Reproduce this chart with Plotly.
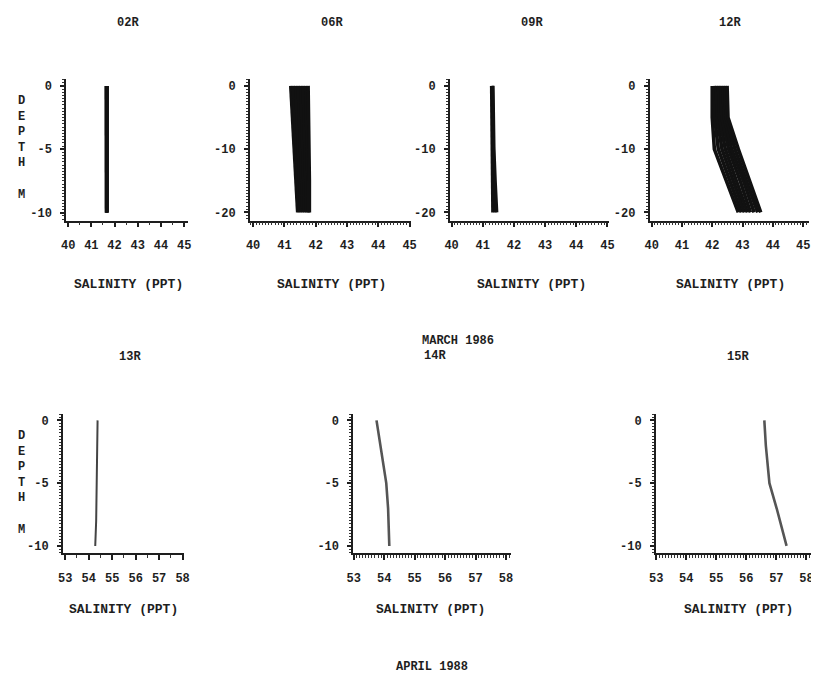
import plotly.graph_objects as go

# page body has an 8px margin, so the figure is drawn 8px in from the top-left
OFF = 8
W, H = 819 - OFF, 679 - OFF

# ---------------- data ----------------
depth_02 = [0, -5, -10]
sal_02 = [
    [41.63, 41.63, 41.64],
    [41.66, 41.66, 41.66],
    [41.69, 41.69, 41.69],
]

depth_06 = [0, -5, -10, -15, -20]
sal_06 = [
    [41.20, 41.25, 41.31, 41.36, 41.42],
    [41.28, 41.32, 41.38, 41.42, 41.47],
    [41.36, 41.40, 41.45, 41.49, 41.53],
    [41.44, 41.48, 41.52, 41.55, 41.59],
    [41.52, 41.55, 41.59, 41.62, 41.65],
    [41.60, 41.63, 41.66, 41.68, 41.71],
    [41.68, 41.71, 41.73, 41.75, 41.76],
    [41.76, 41.78, 41.80, 41.80, 41.80],
]

depth_09 = [0, -5, -10, -15, -20]
sal_09 = [
    [41.28, 41.29, 41.30, 41.31, 41.32],
    [41.31, 41.32, 41.33, 41.36, 41.40],
    [41.33, 41.34, 41.36, 41.40, 41.45],
]

depth_12 = [0, -5, -10, -15, -20]
sal_12 = [
    [42.00, 42.00, 42.07, 42.47, 42.86],
    [42.07, 42.08, 42.20, 42.57, 42.96],
    [42.14, 42.16, 42.32, 42.68, 43.06],
    [42.21, 42.24, 42.43, 42.80, 43.16],
    [42.28, 42.32, 42.54, 42.92, 43.26],
    [42.35, 42.40, 42.64, 43.03, 43.38],
    [42.42, 42.46, 42.75, 43.14, 43.50],
    [42.49, 42.52, 42.86, 43.22, 43.60],
]

depth_13 = [0, -2, -5, -8, -10]
sal_13 = [54.38, 54.37, 54.35, 54.32, 54.28]

depth_14 = [0, -2, -4, -5, -7, -10]
sal_14 = [53.75, 53.87, 54.01, 54.07, 54.13, 54.17]

depth_15 = [0, -2, -5, -7, -10]
sal_15 = [56.60, 56.65, 56.77, 57.01, 57.34]

station_names = ["02R", "06R", "09R", "12R", "13R", "14R", "15R"]
xt_top = [40, 41, 42, 43, 44, 45]
xt_bot = [53, 54, 55, 56, 57, 58]
yt_10 = [0, -5, -10]
yt_20 = [0, -10, -20]
x_title = "SALINITY (PPT)"
y_title = "D<br>E<br>P<br>T<br>H<br> <br>M"
month_top = "MARCH 1986"
month_bot = "APRIL 1988"

# ---------------- layout helpers ----------------
FONT = "Liberation Mono"
INK = "#1e1e1e"


def fx(p):
    return min(1.0, max(0.0, (p - OFF) / W))


def fy(p):
    return min(1.0, max(0.0, 1 - (p - OFF) / H))


# panel geometry: (x domain px, x range, y domain px, y range, yticks, xticks, xminor, yminor)
panels = [
    ((60, 184), (39.915, 45.17), (79, 221), (0.551, -10.63), yt_10, xt_top, 0.5, 0.25),
    ((246.7, 410), (39.896, 45.03), (79, 221), (1.105, -21.31), yt_20, xt_top, 0.1, 0.5),
    ((450, 612), (39.946, 45.06), (79, 221), (1.105, -21.31), yt_20, xt_top, 0.1, 0.5),
    ((653, 815), (39.935, 45.195), (79, 221), (1.105, -21.31), yt_20, xt_top, 0.1, 0.5),
    ((56.7, 180), (52.904, 58.07), (414.3, 554.3), (0.533, -10.6), yt_10, xt_bot, 0.5, 0.25),
    ((351.7, 511.7), (52.985, 58.15), (414.3, 554.3), (0.533, -10.6), yt_10, xt_bot, 0.1, 0.25),
    ((659.3, 819), (52.99, 58.22), (414.3, 554.3), (0.533, -10.6), yt_10, xt_bot, 0.1, 0.25),
]

series = [
    (depth_02, sal_02, "#111111", 3.2),
    (depth_06, sal_06, "#111111", 3.4),
    (depth_09, sal_09, "#111111", 3.2),
    (depth_12, sal_12, "#111111", 3.6),
    (depth_13, [sal_13], "#444444", 2.0),
    (depth_14, [sal_14], "#555555", 2.6),
    (depth_15, [sal_15], "#555555", 2.6),
]

fig = go.Figure()
layout = dict(
    width=W, height=H,
    margin=dict(l=0, r=0, t=0, b=0),
    paper_bgcolor="white", plot_bgcolor="white",
    showlegend=False,
    font=dict(family=FONT, size=12, color=INK, weight="bold"),
)

for i, (pan, ser) in enumerate(zip(panels, series)):
    (xd, xr, yd, yr, yt, xt, xmin, ymin) = pan
    n = i + 1
    xa = "xaxis" if n == 1 else f"xaxis{n}"
    ya = "yaxis" if n == 1 else f"yaxis{n}"
    xref = "x" if n == 1 else f"x{n}"
    yref = "y" if n == 1 else f"y{n}"
    layout[xa] = dict(
        domain=[fx(xd[0]), fx(xd[1])], range=list(xr), anchor=yref,
        showline=True, linecolor=INK, linewidth=1.6, showgrid=False, zeroline=False,
        ticks="outside", ticklen=5, tickwidth=1.6, tickcolor=INK,
        tickvals=xt, ticktext=[str(v) for v in xt], ticklabelstandoff=7,
        tickfont=dict(family=FONT, size=12, color=INK, weight="bold"),
        minor=dict(dtick=xmin, ticklen=2.5, tickwidth=1, tickcolor="#333", ticks="outside", tick0=xt[0]),
        fixedrange=True,
    )
    layout[ya] = dict(
        domain=[fy(yd[1]), fy(yd[0])], range=[yr[1], yr[0]], anchor=xref,
        showline=True, linecolor=INK, linewidth=1.6, showgrid=False, zeroline=False,
        ticks="outside", ticklen=4, tickwidth=1.6, tickcolor=INK,
        tickvals=yt, ticktext=[str(v) for v in yt], ticklabelstandoff=6,
        tickfont=dict(family=FONT, size=12, color=INK, weight="bold"),
        minor=dict(dtick=ymin, ticklen=2, tickwidth=1, tickcolor="#333", ticks="outside", tick0=0),
        fixedrange=True,
    )
    depths, profiles, col, lw = ser
    for prof in profiles:
        fig.add_trace(go.Scatter(
            x=prof, y=depths, mode="lines", xaxis=xref, yaxis=yref,
            line=dict(color=col, width=lw), hoverinfo="skip",
        ))

ann = []
title_pos = [(123, 23), (330, 23), (533, 23), (735, 23), (125, 358), (435, 357), (743, 358)]
for name, (tx, ty) in zip(station_names, title_pos):
    ann.append(dict(text=name, x=fx(tx), y=fy(ty), xref="paper", yref="paper",
                    showarrow=False, xanchor="center", yanchor="middle",
                    font=dict(family=FONT, size=12, color=INK, weight="bold")))

xt_pos = [(123, 285), (330, 285), (533, 285), (735, 285), (118, 610), (430, 610), (743, 610)]
for (tx, ty) in xt_pos:
    ann.append(dict(text=x_title, x=fx(tx), y=fy(ty), xref="paper", yref="paper",
                    showarrow=False, xanchor="center", yanchor="middle",
                    font=dict(family=FONT, size=13, color=INK, weight="bold")))

for cy in (148, 484):
    ann.append(dict(text=y_title, x=fx(15), y=fy(cy), xref="paper", yref="paper",
                    showarrow=False, xanchor="center", yanchor="middle",
                    font=dict(family=FONT, size=12, color=INK, weight="bold")))

ann.append(dict(text=month_top, x=fx(458), y=fy(341), xref="paper", yref="paper",
                showarrow=False, xanchor="center", yanchor="middle",
                font=dict(family=FONT, size=12, color=INK, weight="bold")))
ann.append(dict(text=month_bot, x=fx(432), y=fy(668), xref="paper", yref="paper",
                showarrow=False, xanchor="center", yanchor="middle",
                font=dict(family=FONT, size=12, color=INK, weight="bold")))

layout["annotations"] = ann
fig.update_layout(**layout)
fig.write_html("out.html")
